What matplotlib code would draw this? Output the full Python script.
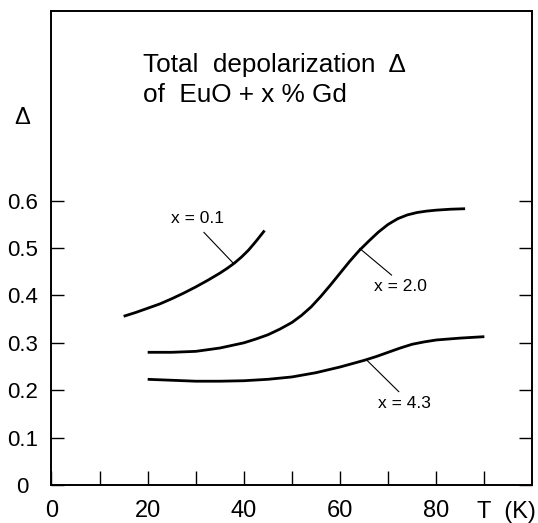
import numpy as np
import matplotlib.pyplot as plt

plt.rcParams['font.family'] = ['Liberation Sans', 'DejaVu Sans']

# Data: T (K) vs total depolarization
T_01 = [15, 17.5, 20, 22.5, 25, 27.5, 30, 32.5, 35, 36.5, 38, 39.5, 41, 42.5, 44.3]
D_01 = [0.356, 0.364, 0.373, 0.382, 0.393, 0.405, 0.418, 0.432, 0.447, 0.457,
        0.468, 0.481, 0.496, 0.514, 0.537]

T_20 = [20, 25, 30, 35, 40, 42.5, 45, 47.5, 50, 52, 54, 56, 58, 60, 62, 64, 66,
        68, 70, 72, 74, 76, 78, 80, 83, 86]
D_20 = [0.280, 0.280, 0.282, 0.289, 0.300, 0.308, 0.317, 0.329, 0.343, 0.358,
        0.376, 0.398, 0.422, 0.447, 0.472, 0.495, 0.515, 0.534, 0.550, 0.562,
        0.570, 0.575, 0.578, 0.580, 0.582, 0.583]

T_43 = [20, 25, 30, 35, 40, 45, 50, 55, 60, 62.5, 65, 67.5, 70, 72.5, 75, 77.5,
        80, 85, 90]
D_43 = [0.223, 0.221, 0.219, 0.219, 0.220, 0.223, 0.228, 0.237, 0.249, 0.256,
        0.263, 0.271, 0.280, 0.289, 0.297, 0.302, 0.306, 0.310, 0.313]

labels = ['x = 0.1', 'x = 2.0', 'x = 4.3']
# leader line: (point on curve, end near label), label centre
leaders = [((37.8, 0.468), (31.7, 0.533)),
           ((64.1, 0.499), (70.7, 0.443)),
           ((65.5, 0.264), (72.2, 0.197))]
label_pos = [(30.3, 0.562), (72.5, 0.418), (73.3, 0.171)]

xticks = [0, 10, 20, 30, 40, 50, 60, 70, 80, 90]
xticklabels = ['0', '', '20', '', '40', '', '60', '', '80', '']
yticks = [0, 0.1, 0.2, 0.3, 0.4, 0.5, 0.6]
yticklabels = ['0', '0.1', '0.2', '0.3', '0.4', '0.5', '0.6']

fig = plt.figure(figsize=(5.38, 5.23), dpi=100)
ax = fig.add_axes([0.0957, 0.0727, 0.894, 0.906])

for T, D in [(T_01, D_01), (T_20, D_20), (T_43, D_43)]:
    ax.plot(T, D, color='black', lw=2.0, solid_capstyle='butt', solid_joinstyle='round')

for (p0, p1), lab, pos in zip(leaders, labels, label_pos):
    ax.plot([p0[0], p1[0]], [p0[1], p1[1]], color='black', lw=0.8)
    ax.text(pos[0], pos[1], lab, fontsize=12.5, ha='center', va='center')

ax.set_xlim(0, 100)
ax.set_ylim(0, 1.0)
ax.set_xticks(xticks)
ax.set_xticklabels(xticklabels)
ax.set_yticks(yticks)
ax.set_yticklabels(yticklabels)
for t in ax.get_yticklabels():
    t.set_horizontalalignment('center')

ax.tick_params(axis='x', direction='in', length=10, width=1.0, labelsize=17, pad=11)
ax.tick_params(axis='y', direction='in', length=9.5, width=1.0, labelsize=16, pad=21,
               right=True)
for s in ax.spines.values():
    s.set_linewidth(1.4)

ax.text(94.5, -0.057, 'T  (K)', fontsize=17, ha='center', va='center',
        transform=ax.get_xaxis_transform())
ax.text(-0.061, 0.774, '\u0394', fontsize=17, ha='center', va='center',
        transform=ax.transAxes)

ax.text(0.19, 0.887, 'Total  depolarization  \u0394', fontsize=18.8, ha='left', va='center',
        transform=ax.transAxes)
ax.text(0.19, 0.822, 'of  EuO + x % Gd', fontsize=18.8, ha='left', va='center',
        transform=ax.transAxes)

fig.savefig('out.png', dpi=100)
